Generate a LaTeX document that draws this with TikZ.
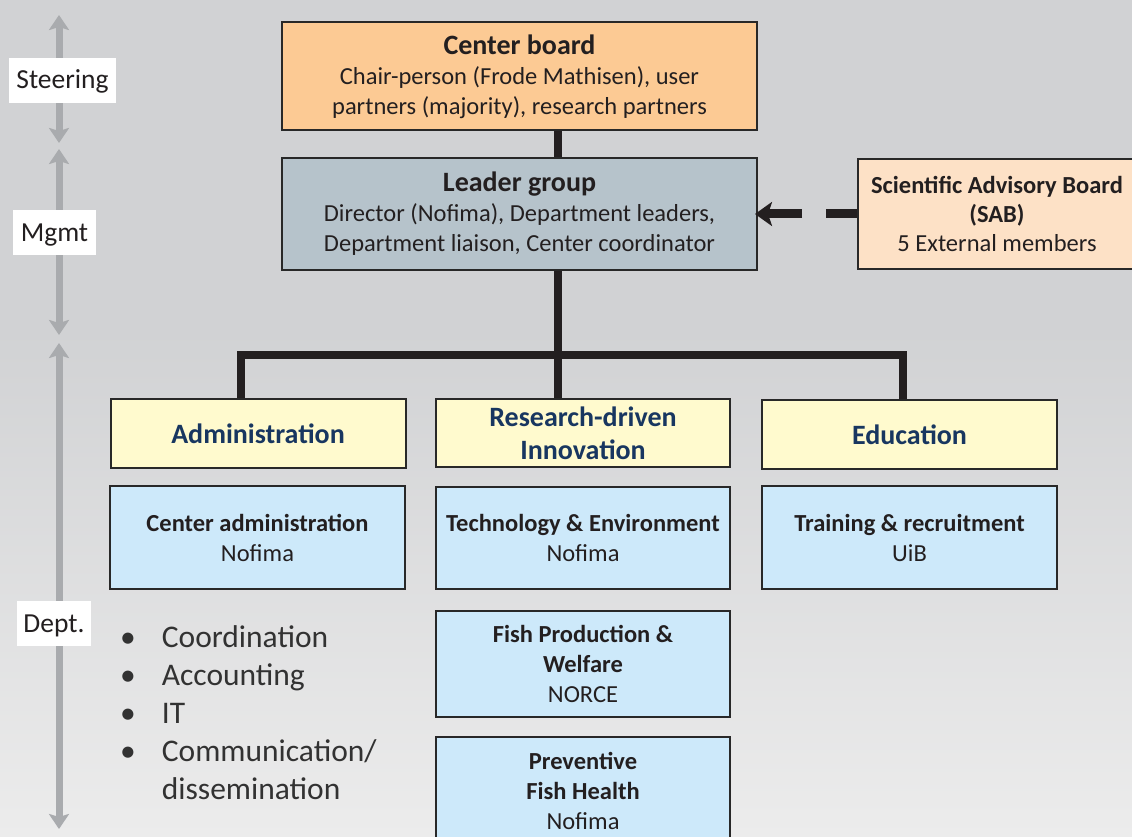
\documentclass[tikz,border=0pt]{standalone}
\usepackage{fontspec}
\setmainfont{Carlito}
\usetikzlibrary{arrows.meta}
\definecolor{bgtop}{RGB}{209,210,212}
\definecolor{bgbot}{RGB}{236,236,236}
\definecolor{boardfill}{RGB}{252,202,148}
\definecolor{leaderfill}{RGB}{182,195,203}
\definecolor{sabfill}{RGB}{253,225,198}
\definecolor{deptfill}{RGB}{255,250,206}
\definecolor{unitfill}{RGB}{205,233,250}
\definecolor{edgecol}{RGB}{40,40,40}
\definecolor{inkcol}{RGB}{35,31,32}
\definecolor{navy}{RGB}{24,54,96}
\definecolor{sidegray}{RGB}{169,171,174}
\definecolor{bullettext}{RGB}{50,50,50}
\tikzset{
  box/.style={draw=edgecol, line width=2pt, inner sep=0pt, align=center, text=inkcol,
    font=\fontsize{24.5}{30}\selectfont},
  deptbox/.style={box, fill=deptfill, minimum width=295pt, minimum height=69pt,
    text=navy, font=\fontsize{28}{33}\selectfont\bfseries},
  unitbox/.style={box, fill=unitfill, minimum width=295pt},
  conn/.style={draw=inkcol, line width=8pt},
  sidearrow/.style={draw=sidegray, line width=7pt,
    {Stealth[length=15pt,width=20pt,inset=3pt]}-{Stealth[length=15pt,width=20pt,inset=3pt]}},
  sidelabel/.style={fill=white, inner sep=0pt, text=inkcol,
    font=\fontsize{27.5}{30}\selectfont, minimum height=45pt,
    text height=22pt, text depth=5pt}
}
\begin{document}
\begin{tikzpicture}[x=1pt,y=-1pt]
\useasboundingbox (0,0) rectangle (1132,837);
\fill[bgtop] (0,0) rectangle (1132,330);
\shade[top color=bgtop, bottom color=bgbot] (0,330) rectangle (1132,837);
\begin{scope}
\clip (0,0) rectangle (1132,837);

% left side arrows
\coordinate (s1) at (59,15);  \coordinate (s2) at (59,143);
\coordinate (m1) at (59,149); \coordinate (m2) at (59,335);
\coordinate (d1) at (59,343); \coordinate (d2) at (59,829);
\draw[sidearrow] (s1) -- (s2);
\draw[sidearrow] (m1) -- (m2);
\draw[sidearrow] (d1) -- (d2);
\node[sidelabel, minimum width=107pt] (lsteer) at (62.5,80.5) {Steering};
\node[sidelabel, minimum width=83pt] (lmgmt) at (54.5,232.5) {Mgmt};
\node[sidelabel, minimum width=74pt] (ldept) at (54,623.5) {Dept.};

% top boxes
\node[box, fill=boardfill, minimum width=475pt, minimum height=108pt] (board) at (519.5,76.5)
  {{\fontsize{28}{31}\selectfont\bfseries Center board}\\Chair-person (Frode Mathisen), user\\partners (majority), research partners};
\node[box, fill=leaderfill, minimum width=475pt, minimum height=112pt] (leader) at (519.5,214)
  {{\fontsize{28}{31}\selectfont\bfseries Leader group}\\Director (Nofima), Department leaders,\\Department liaison, Center coordinator};
\node[box, fill=sabfill, minimum width=278pt, minimum height=110pt, font=\fontsize{24.5}{29}\selectfont] (sab) at (997,214)
  {\textbf{Scientific Advisory Board}\\\textbf{(SAB)}\\5 External members};

% department headers
\node[deptbox] (admin) at (258,433.5) {Administration};
\node[deptbox, minimum width=294pt, minimum height=68pt] (rdi) at (583,433) {Research-driven\\Innovation};
\node[deptbox] (edu) at (909.5,434.5) {Education};

% units
\node[unitbox, minimum height=103pt] (cadm) at (257.5,537.5) {\textbf{Center administration}\\Nofima};
\node[unitbox, minimum width=294pt, minimum height=102pt] (tech) at (583,538) {\textbf{Technology \& Environment}\\Nofima};
\node[unitbox, minimum height=103pt] (train) at (909.5,537.5) {\textbf{Training \& recruitment}\\UiB};
\node[unitbox, minimum width=294pt, minimum height=106pt] (fish) at (583,664) {\textbf{Fish Production \&}\\\textbf{Welfare}\\NORCE};
\node[unitbox, minimum width=294pt, minimum height=108pt] (prev) at (583,791) {\textbf{Preventive}\\\textbf{Fish Health}\\Nofima};

% bullet list
\node[anchor=north west, inner sep=0pt, text=bullettext, font=\fontsize{31.5}{38}\selectfont] (list) at (120,621)
  {\begin{tabular}{@{}l@{\hspace{26pt}}l@{}}
   \textbullet & Coordination\\
   \textbullet & Accounting\\
   \textbullet & IT\\
   \textbullet & Communication/\\
               & dissemination
   \end{tabular}};

% connectors
\coordinate (trunk) at (558,0);
\coordinate (bar) at (558,355);
\coordinate (xa) at (241,0);
\coordinate (xe) at (903,0);
\draw[conn] (board.south -| trunk) -- (leader.north -| trunk);
\draw[conn] (leader.south -| trunk) -- (rdi.north -| trunk);
\draw[conn] (admin.north -| xa) |- (bar) -| (edu.north -| xe);
\draw[draw=inkcol, line width=9pt, dash pattern=on 31pt off 24pt on 60pt off 0pt,
  -{Stealth[length=17pt,width=24pt,inset=4pt]}, shorten >=-3pt] (sab.west) -- (leader.east);
\end{scope}
\end{tikzpicture}
\end{document}
